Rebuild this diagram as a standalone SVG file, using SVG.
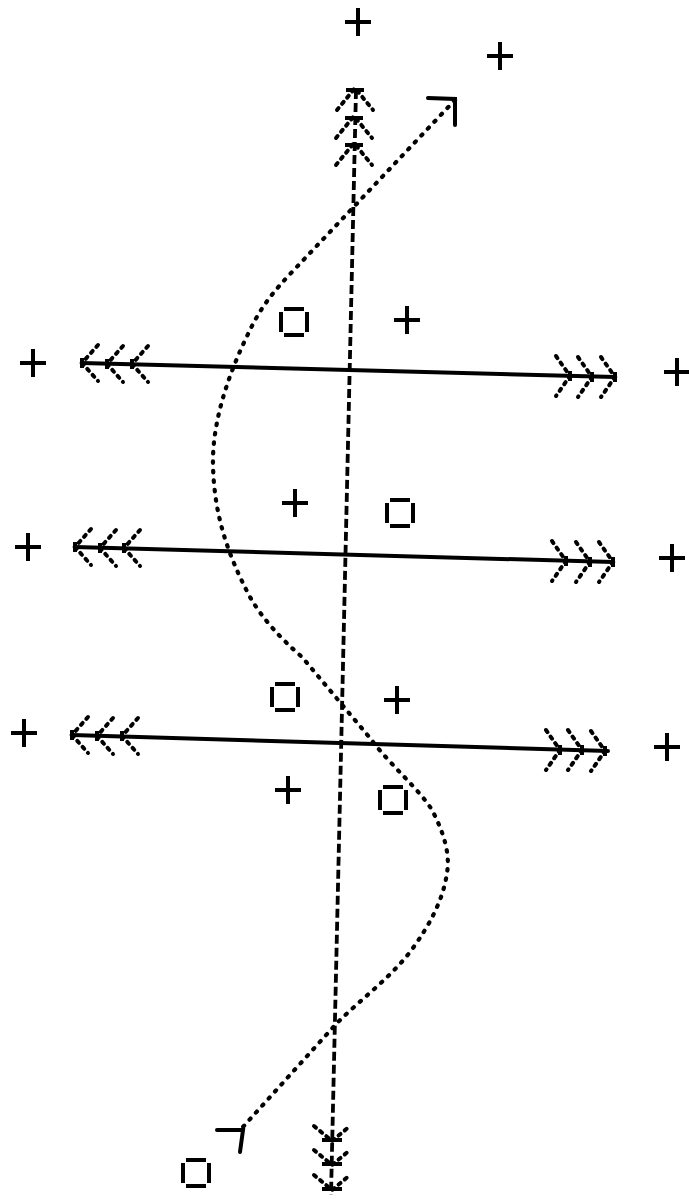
<svg xmlns="http://www.w3.org/2000/svg" width="689" height="1202" viewBox="0 0 689 1202">
<style>
.bg{fill:#fff}
.solid{stroke:#000;stroke-width:4;fill:none;stroke-linecap:round}
.dash{stroke:#000;stroke-width:3.8;fill:none;stroke-dasharray:9 4}
.dot{stroke:#000;stroke-width:4.2;fill:none;stroke-linecap:round;stroke-dasharray:1.5 8}
.chev{stroke:#000;stroke-width:4;fill:none;stroke-linecap:round;stroke-dasharray:2.5 5.5}
.tick{stroke:#000;stroke-width:4;fill:none}
.sym{stroke:#000;stroke-width:4;fill:none}
</style>
<defs>
<g id="chevL"><path class="chev" d="M16,-18 L0,0 L16,18"/><path class="tick" d="M0,-5 V5"/></g>
<g id="chevR"><path class="chev" d="M-14,-20 L0,0 L-14,20"/><path class="tick" d="M0,-5 V5"/></g>
<g id="chevU"><path class="chev" d="M-18,22 L0,0 L18,22"/><path class="tick" d="M-9,2 H9"/></g>
<g id="chevD"><path class="chev" d="M-18,-15 L0,0 L18,-15"/><path class="tick" d="M-10,-1 H10"/></g>
<path id="plus" class="sym" d="M-13,0 H13 M0,-14 V14"/>
<path id="sq" class="sym" d="M-10,-13 H10 M-10,13 H10 M-13,-10 V10 M13,-10 V10"/>
</defs>
<rect class="bg" width="689" height="1202"/>
<g id="connectors">
  <g id="axis">
    <line class="dash" x1="356" y1="90" x2="331" y2="1195"/>
    <use href="#chevU" x="355" y="88"/>
    <use href="#chevU" x="354" y="116"/>
    <use href="#chevU" x="354" y="143"/>
    <use href="#chevD" x="332" y="1141"/>
    <use href="#chevD" x="332" y="1165"/>
    <use href="#chevD" x="332" y="1190"/>
  </g>
  <g id="line1">
    <line class="solid" x1="82" y1="363" x2="615" y2="377"/>
    <use href="#chevL" x="82" y="363"/>
    <use href="#chevL" x="107" y="364"/>
    <use href="#chevL" x="132" y="364"/>
    <use href="#chevR" x="570" y="376"/>
    <use href="#chevR" x="592" y="377"/>
    <use href="#chevR" x="615" y="377"/>
  </g>
  <g id="line2">
    <line class="solid" x1="75" y1="547" x2="613" y2="562"/>
    <use href="#chevL" x="75" y="547"/>
    <use href="#chevL" x="100" y="548"/>
    <use href="#chevL" x="124" y="548"/>
    <use href="#chevR" x="566" y="561"/>
    <use href="#chevR" x="590" y="562"/>
    <use href="#chevR" x="613" y="562"/>
  </g>
  <g id="line3">
    <line class="solid" x1="72" y1="735" x2="608" y2="751"/>
    <use href="#chevL" x="72" y="735"/>
    <use href="#chevL" x="97" y="736"/>
    <use href="#chevL" x="122" y="736"/>
    <use href="#chevR" x="560" y="750"/>
    <use href="#chevR" x="582" y="750"/>
    <use href="#chevR" x="605" y="751"/>
  </g>
  <g id="curve">
    <path class="dot" d="M455,100 L292,272 C275,290 262,305 250,330 C230,370 212,420 213,465 C214,510 225,550 250,597 C262,618 280,638 302,657 L370,738 C390,765 420,790 432,810 C445,835 450,855 447,873 C443,900 430,925 410,952 C390,978 360,1000 337,1023 L242,1128"/>
    <path class="solid" d="M428,98 L455,99 L455,125"/>
    <path class="solid" d="M217,1130 L243,1130 L240,1152"/>
  </g>
</g>
<g id="s1"><use href="#plus" x="358" y="22"/></g>
<g id="s2"><use href="#plus" x="500" y="56"/></g>
<g id="s3"><use href="#sq" x="294" y="322"/></g>
<g id="s4"><use href="#plus" x="407" y="320"/></g>
<g id="s5"><use href="#plus" x="33" y="363"/></g>
<g id="s6"><use href="#plus" x="677" y="372"/></g>
<g id="s7"><use href="#plus" x="295" y="503"/></g>
<g id="s8"><use href="#sq" x="400" y="513"/></g>
<g id="s9"><use href="#plus" x="28" y="547"/></g>
<g id="s10"><use href="#plus" x="672" y="558"/></g>
<g id="s11"><use href="#sq" x="285" y="697"/></g>
<g id="s12"><use href="#plus" x="397" y="700"/></g>
<g id="s13"><use href="#plus" x="24" y="733"/></g>
<g id="s14"><use href="#plus" x="667" y="747"/></g>
<g id="s15"><use href="#plus" x="288" y="790"/></g>
<g id="s16"><use href="#sq" x="393" y="800"/></g>
<g id="s17"><use href="#sq" x="196" y="1173"/></g>
</svg>
